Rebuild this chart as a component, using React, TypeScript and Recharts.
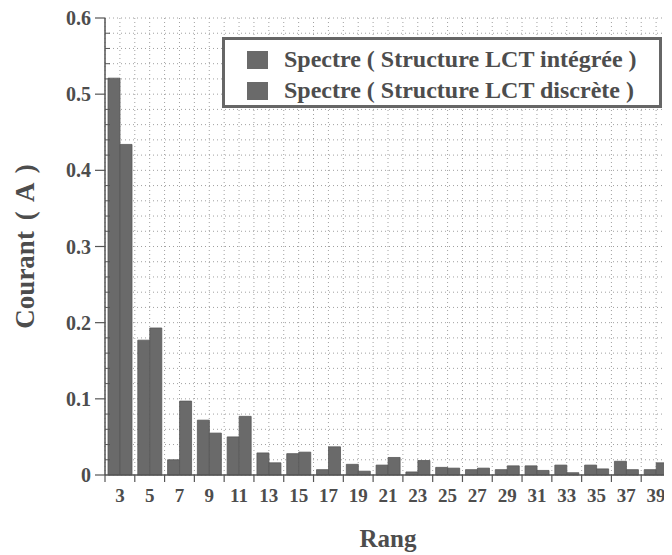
import React from "react";
import {
  BarChart,
  Bar,
  XAxis,
  YAxis,
  CartesianGrid,
  Legend,
  Label,
} from "recharts";

const RANKS = [3, 5, 7, 9, 11, 13, 15, 17, 19, 21, 23, 25, 27, 29, 31, 33, 35, 37, 39];
const INTEGREE = [0.521, 0.177, 0.02, 0.072, 0.05, 0.029, 0.028, 0.007, 0.014, 0.013, 0.004, 0.01, 0.007, 0.007, 0.012, 0.013, 0.013, 0.018, 0.007];
const DISCRETE = [0.434, 0.193, 0.097, 0.055, 0.077, 0.016, 0.03, 0.037, 0.005, 0.023, 0.019, 0.009, 0.009, 0.012, 0.006, 0.003, 0.008, 0.007, 0.016];
const Y_TICKS = Array.from({ length: 31 }, (_, i) => Math.round(i * 2) / 100);
const GRID_X_TICKS = Array.from({ length: 39 }, (_, i) => i + 2);
const SERIES_NAMES = ["Spectre ( Structure LCT intégrée )", "Spectre ( Structure LCT discrète )"];

const data = RANKS.map((r, i) => ({ rank: r, integree: INTEGREE[i], discrete: DISCRETE[i] }));

const FONT = "'Liberation Serif', 'Times New Roman', serif";
const TXT = "#4d4d4d";
const AX = "#555";
const BAR = "#6a6a6a";

const isMajor = (v: number) => Math.abs(v * 10 - Math.round(v * 10)) < 1e-6;

const XTick = (props: any) => {
  const { x, y, payload, index, width } = props;
  const bw = (width || 566) / RANKS.length;
  const top = y - 8;
  return (
    <g>
      <line x1={x - bw / 2} x2={x - bw / 2} y1={top} y2={top + 7} stroke={AX} strokeWidth={1.2} />
      {index === RANKS.length - 1 && (
        <line x1={x + bw / 2} x2={x + bw / 2} y1={top} y2={top + 7} stroke={AX} strokeWidth={1.2} />
      )}
      <text x={x} y={top + 27} textAnchor="middle" fontFamily={FONT} fontWeight="bold" fontSize={19} fill={TXT}>
        {payload.value}
      </text>
    </g>
  );
};

const YTick = (props: any) => {
  const { x, y, payload } = props;
  const axisX = x + 8;
  const v = payload.value;
  if (isMajor(v)) {
    return (
      <g>
        <line x1={axisX - 10} x2={axisX} y1={y} y2={y} stroke={AX} strokeWidth={1.2} />
        <text x={axisX - 14} y={y} dy="0.35em" textAnchor="end" fontFamily={FONT} fontWeight="bold" fontSize={20} fill={TXT}>
          {v === 0 ? "0" : v.toFixed(1)}
        </text>
      </g>
    );
  }
  return <line x1={axisX} x2={axisX + 5} y1={y} y2={y} stroke={AX} strokeWidth={1} />;
};

const RightTick = (props: any) => {
  const { x, y, payload } = props;
  const axisX = x - 8;
  const len = isMajor(payload.value) ? 8 : 4;
  return <line x1={axisX - len} x2={axisX} y1={y} y2={y} stroke={AX} strokeWidth={1} />;
};

const TopTick = (props: any) => {
  const { x, y, payload } = props;
  const base = y + 8;
  const len = payload.value % 2 === 0 ? 6 : 4;
  return <line x1={x} x2={x} y1={base - len} y2={base + 2} stroke={AX} strokeWidth={1} />;
};

const YLabel = (props: any) => {
  const vb = props.viewBox || { x: 0, y: 10, width: 97, height: 457 };
  const cx = vb.x + 17;
  const cy = vb.y + vb.height / 2;
  return (
    <text x={cx} y={cy} transform={`rotate(-90, ${cx}, ${cy})`} textAnchor="middle" dominantBaseline="central" fontFamily={FONT} fontWeight="bold" fontSize={27} fill={TXT} style={{ wordSpacing: 4 }}>
      Courant ( A )
    </text>
  );
};

const XLabel = (props: any) => {
  const vb = props.viewBox || { x: 97, y: 467, width: 566, height: 50 };
  return (
    <text x={vb.x + vb.width / 2} y={vb.y + 72} textAnchor="middle" fontFamily={FONT} fontWeight="bold" fontSize={25} fill={TXT}>
      Rang
    </text>
  );
};

const LegendBox = () => (
  <div
    style={{
      width: 434,
      height: 61,
      border: "3px solid #666",
      background: "#fff",
      boxSizing: "content-box",
      fontFamily: FONT,
      fontWeight: "bold",
      fontSize: 24,
      color: TXT,
      paddingTop: 4,
    }}
  >
    {SERIES_NAMES.map((n) => (
      <div key={n} style={{ display: "flex", alignItems: "center", height: 31, paddingLeft: 22 }}>
        <span style={{ display: "inline-block", width: 21, height: 18, background: BAR, marginRight: 16 }} />
        <span style={{ whiteSpace: "nowrap" }}>{n}</span>
      </div>
    ))}
  </div>
);

export default function App() {
  return (
    <div style={{ width: 664, height: 547, background: "#fff" }}>
      <BarChart
        width={664}
        height={547}
        data={data}
        margin={{ top: 10, right: 0, left: 0, bottom: 30 }}
        barCategoryGap={3}
        barGap={0}
      >
        <CartesianGrid xAxisId="num" yAxisId="left" stroke="#a0a0a0" strokeDasharray="1 3" />
        <XAxis
          xAxisId={0}
          dataKey="rank"
          type="category"
          height={50}
          interval={0}
          tickLine={false}
          tickSize={6}
          tickMargin={2}
          axisLine={{ stroke: AX, strokeWidth: 1.5 }}
          tick={<XTick />}
        >
          <Label content={<XLabel />} />
        </XAxis>
        <XAxis
          xAxisId="num"
          dataKey="rank"
          type="number"
          orientation="top"
          domain={[2, 40]}
          allowDataOverflow
          ticks={GRID_X_TICKS}
          interval={0}
          height={0}
          tickLine={false}
          tickSize={6}
          tickMargin={2}
          axisLine={{ stroke: AX, strokeWidth: 1.5 }}
          tick={<TopTick />}
        />
        <YAxis
          yAxisId="left"
          width={97}
          domain={[0, 0.6]}
          ticks={Y_TICKS}
          interval={0}
          tickLine={false}
          tickSize={6}
          tickMargin={2}
          axisLine={{ stroke: AX, strokeWidth: 1.5 }}
          tick={<YTick />}
        >
          <Label content={<YLabel />} />
        </YAxis>
        <YAxis
          yAxisId="right"
          orientation="right"
          width={1}
          domain={[0, 0.6]}
          ticks={Y_TICKS}
          interval={0}
          tickLine={false}
          tickSize={6}
          tickMargin={2}
          axisLine={{ stroke: AX, strokeWidth: 1.5 }}
          tick={<RightTick />}
        />
        <Legend
          layout="vertical"
          align="center"
          verticalAlign="middle"
          content={<LegendBox />}
          wrapperStyle={{ position: "absolute", left: 214, top: 29, width: 440, height: 70, margin: 0 }}
        />
        <Bar xAxisId={0} yAxisId="left" dataKey="integree" name={SERIES_NAMES[0]} fill={BAR} stroke="#585858" strokeWidth={0.8} isAnimationActive={false} />
        <Bar xAxisId={0} yAxisId="left" dataKey="discrete" name={SERIES_NAMES[1]} fill={BAR} stroke="#585858" strokeWidth={0.8} isAnimationActive={false} />
      </BarChart>
    </div>
  );
}
